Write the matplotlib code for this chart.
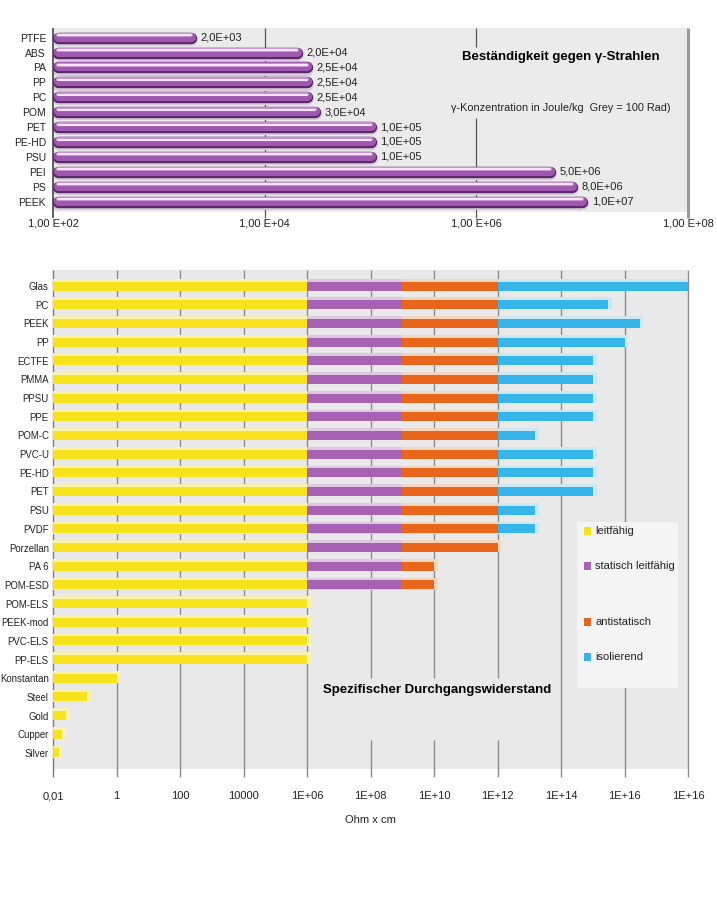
import numpy as np
import matplotlib
matplotlib.use("Agg")
import matplotlib.pyplot as plt
from matplotlib.patches import Rectangle

# ---- data: gamma radiation resistance (top chart) ----
gamma_materials = ["PTFE", "ABS", "PA", "PP", "PC", "POM", "PET", "PE-HD",
                   "PSU", "PEI", "PS", "PEEK"]
gamma_values = [2.0e3, 2.0e4, 2.5e4, 2.5e4, 2.5e4, 3.0e4, 1.0e5, 1.0e5,
                1.0e5, 5.0e6, 8.0e6, 1.0e7]
gamma_labels = ["2,0E+03", "2,0E+04", "2,5E+04", "2,5E+04", "2,5E+04",
                "3,0E+04", "1,0E+05", "1,0E+05", "1,0E+05", "5,0E+06",
                "8,0E+06", "1,0E+07"]
gamma_ticks = [1e2, 1e4, 1e6, 1e8]
gamma_ticklabels = ["1,00 E+02", "1,00 E+04", "1,00 E+06", "1,00 E+08"]

# ---- data: specific volume resistance (bottom chart) ----
materials = ["Glas", "PC", "PEEK", "PP", "ECTFE", "PMMA", "PPSU", "PPE",
             "POM-C", "PVC-U", "PE-HD", "PET", "PSU", "PVDF", "Porzellan",
             "PA 6", "POM-ESD", "POM-ELS", "PEEK-mod", "PVC-ELS", "PP-ELS",
             "Konstantan", "Steel", "Gold", "Cupper", "Silver"]
nan = np.nan
leit_end = [1e6] * 21 + [1.0, 0.12, 0.026, 0.019, 0.015]
stat_end = [1e9] * 17 + [nan] * 9
anti_end = [1e12] * 15 + [1e10, 1e10] + [nan] * 9
iso_end = [1e18, 3e15, 3e16, 1e16, 1e15, 1e15, 1e15, 1e15, 1.5e13, 1e15,
           1e15, 1e15, 1.5e13, 1.5e13] + [nan] * 12
seg_start = [1e-2, 1e6, 1e9, 1e12]
categories = ["leitfähig", "statisch leitfähig", "antistatisch", "isolierend"]
res_ticks = [1e-2, 1e0, 1e2, 1e4, 1e6, 1e8, 1e10, 1e12, 1e14, 1e16, 1e18]
res_ticklabels = ["0,01", "1", "100", "10000", "1E+06", "1E+08", "1E+10",
                  "1E+12", "1E+14", "1E+16", "1E+16"]

plt.rcParams["font.family"] = ["Liberation Sans", "DejaVu Sans"]

seg_colors = ["#f6e31c", "#a862b3", "#e8651c", "#37b4e8"]
halo_colors = ["#faf1b0", "#dcc6e2", "#f7d5bd", "#cbe7f4"]
BG = "#e9e9ea"

W, H = 717, 918
fig = plt.figure(figsize=(W / 100, H / 100), dpi=100)


def px_axes(left, top, right, bottom):
    return fig.add_axes([left / W, 1 - bottom / H, (right - left) / W, (bottom - top) / H])


# =================== top chart ===================
ax1 = px_axes(53, 28, 688, 212)
ax1.set_xscale("log")
ax1.set_xlim(1e2, 1e8)
ax1.set_ylim(11.7, -0.65)
ax1.set_facecolor("#ebebeb")
for s in ax1.spines.values():
    s.set_visible(False)

ypos = np.arange(len(gamma_materials))
ax1.vlines(1e2, -0.65, 12.1, color="#444444", lw=1.2, clip_on=False, zorder=5)
ax1.vlines(1e4, -0.65, 12.1, color="#555555", lw=0.9, clip_on=False, zorder=1)
ax1.vlines(1e6, -0.65, 0.62, color="#555555", lw=0.9, zorder=1)
ax1.vlines(1e6, 5.39, 12.1, color="#555555", lw=0.9, clip_on=False, zorder=1)
ax1.vlines(1e8, -0.65, 12.1, color="#9a9a9a", lw=2.2, clip_on=False, zorder=1)

start = 1e2 * 10 ** 0.045
for y, v, lab in zip(ypos, gamma_values, gamma_labels):
    ax1.plot([start, v], [y + 0.08, y + 0.08], color="#d3cbd6", lw=9.4,
             solid_capstyle="round", zorder=2)
    ax1.plot([start, v], [y, y], color="#5a2668", lw=8.2,
             solid_capstyle="round", zorder=3)
    ax1.plot([start, v], [y - 0.07, y - 0.07], color="#a057b0", lw=6.6,
             solid_capstyle="round", zorder=4)
    ax1.plot([start, v], [y - 0.2, y - 0.2], color="#c58fd0", lw=3.0,
             solid_capstyle="round", zorder=4)
    ax1.plot([start, v], [y - 0.16, y - 0.16], color="#f6e6f7", lw=1.5,
             solid_capstyle="round", zorder=4)
    ax1.annotate(lab, (v, y), xytext=(7, 0), textcoords="offset points",
                 va="center", ha="left", fontsize=8, color="#222222")

ax1.set_yticks(ypos)
ax1.set_yticklabels(gamma_materials, fontsize=7.5)
ax1.set_xticks(gamma_ticks)
ax1.set_xticklabels(gamma_ticklabels, fontsize=8)
ax1.minorticks_off()
ax1.tick_params(axis="both", length=0, colors="#222222")
ax1.tick_params(axis="x", pad=5)
ax1.tick_params(axis="y", pad=5)

ax1.text(0.80, 0.842, "Beständigkeit gegen γ-Strahlen", transform=ax1.transAxes,
         ha="center", va="center", fontsize=9.5, fontweight="bold")
ax1.text(0.80, 0.565, "γ-Konzentration in Joule/kg  Grey = 100 Rad)",
         transform=ax1.transAxes, ha="center", va="center", fontsize=7.8,
         color="#222222")

# =================== bottom chart ===================
ax2 = px_axes(53, 270, 688, 769)
ax2.set_xscale("log")
ax2.set_xlim(1e-2, 1e18)
ax2.set_ylim(25.86, -0.86)
ax2.set_facecolor(BG)
for s in ax2.spines.values():
    s.set_visible(False)

rows = np.arange(len(materials))
y_top, y_bot = -0.86, 26.3
for t in res_ticks:
    col = "#7a7a7a" if t == res_ticks[0] else "#8c8c8c"
    if t in (1e8, 1e10, 1e12):
        ax2.vlines(t, y_top, 20.99, color=col, lw=1.0, zorder=1)
        ax2.vlines(t, 24.3, y_bot, color=col, lw=1.0, clip_on=False, zorder=1)
    else:
        ax2.vlines(t, y_top, y_bot, color=col, lw=1.0, clip_on=False, zorder=1)

ends = [leit_end, stat_end, anti_end, iso_end]
bar_h = 0.48
for k, seg_end in enumerate(ends):
    end = np.array(seg_end, dtype=float)
    ok = ~np.isnan(end)
    left = seg_start[k]
    halo_end = end[ok] * 10 ** 0.12
    ax2.barh(rows[ok] - 0.07, halo_end - left, left=left, height=bar_h + 0.16,
             color=halo_colors[k], zorder=2, linewidth=0)
for k, seg_end in enumerate(ends):
    end = np.array(seg_end, dtype=float)
    ok = ~np.isnan(end)
    left = seg_start[k]
    ax2.barh(rows[ok], end[ok] - left, left=left, height=bar_h,
             color=seg_colors[k], zorder=3, linewidth=0)

ax2.set_yticks(rows)
ax2.set_yticklabels(materials, fontsize=6.9)
ax2.set_xticks(res_ticks)
ax2.set_xticklabels(res_ticklabels, fontsize=8)
ax2.minorticks_off()
ax2.tick_params(axis="both", length=0, colors="#222222")
ax2.tick_params(axis="x", pad=16)
ax2.tick_params(axis="y", pad=3)
ax2.set_xlabel("Ohm x cm", fontsize=8, labelpad=10, color="#222222")

ax2.text(0.605, 0.158, "Spezifischer Durchgangswiderstand", transform=ax2.transAxes,
         ha="center", va="center", fontsize=9.5, fontweight="bold", zorder=6)

# legend box
ax2.add_patch(Rectangle((0.825, 0.162), 0.159, 0.333, transform=ax2.transAxes,
                        facecolor="#f4f4f4", edgecolor="none", zorder=4))
legend_y = [0.477, 0.407, 0.295, 0.224]
for lab, c, ly in zip(categories, seg_colors, legend_y):
    ax2.add_patch(Rectangle((0.836, ly - 0.008), 0.011, 0.016, transform=ax2.transAxes,
                            facecolor=c, edgecolor="none", zorder=5))
    ax2.text(0.854, ly, lab, transform=ax2.transAxes, ha="left", va="center",
             fontsize=8, color="#222222", zorder=5)

fig.savefig("out.png", dpi=100)
